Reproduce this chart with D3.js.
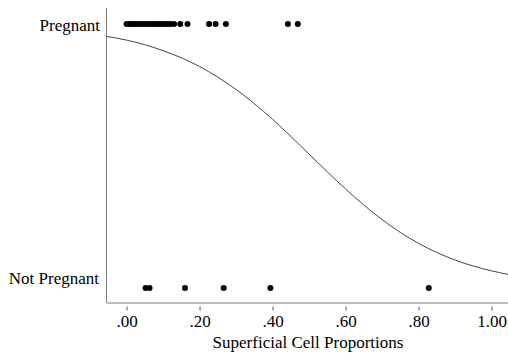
<!DOCTYPE html>
<html><head><meta charset="utf-8">
<script src="https://cdn.jsdelivr.net/npm/d3@7"></script>
<style>body{margin:0;background:#fff}svg{display:block}
svg text{font-family:"Liberation Serif","Times New Roman",Times,"Tinos","DejaVu Serif",serif;}</style>
</head><body>
<script>
const categories = ["Not Pregnant", "Pregnant"];
const pregnantX = [0.00,0.008,0.015,0.022,0.03,0.038,0.045,0.052,0.06,0.068,0.075,0.083,0.09,0.098,0.105,0.113,0.12,0.13,0.147,0.167,0.226,0.244,0.272,0.442,0.469];
const notPregnantX = [0.052,0.063,0.160,0.266,0.394,0.828];
const curveX = [-0.055,0.0,0.1,0.2,0.3,0.4,0.5,0.6,0.7,0.8,0.9,1.0,1.045];
const curveP = [0.953,0.939,0.899,0.839,0.752,0.639,0.507,0.375,0.259,0.169,0.106,0.065,0.0515];
const tickValues = [0,0.2,0.4,0.6,0.8,1.0];
const tickLabels = [".00",".20",".40",".60",".80","1.00"];
const xTitle = "Superficial Cell Proportions";

const W=508,H=356;
const svg=d3.select("body").append("svg").attr("width",W).attr("height",H);
const x=d3.scaleLinear().domain([-0.055,1.045]).range([106.5,508]);
const y=d3.scaleLinear().domain([0,1]).range([288,24]);
const axisY=302.5;

svg.append("line").attr("x1",106.5).attr("x2",106.5).attr("y1",8).attr("y2",axisY)
  .attr("stroke","#808080").attr("stroke-width",1);
const ax=svg.append("g").attr("transform",`translate(0,${axisY})`)
  .call(d3.axisBottom(x).tickValues(tickValues).tickFormat((d,i)=>tickLabels[i]).tickSize(4).tickSizeOuter(0));
ax.attr("font-family",null).attr("font-size",null);
ax.select(".domain").attr("stroke","#808080").attr("d",`M106.5,0.5H508`);
ax.selectAll(".tick line").attr("y1",4).attr("y2",8).attr("stroke","#555");
ax.selectAll(".tick text").attr("y",24).attr("dy",0).style("font-size","17px").attr("fill","#000");

svg.append("text").attr("x",308).attr("y",347.5).attr("text-anchor","middle")
  .style("font-size","17px").text(xTitle);

svg.append("text").attr("x",100).attr("y",y(1)+7).attr("text-anchor","end")
  .style("font-size","17px").text(categories[1]);
svg.append("text").attr("x",99).attr("y",y(0)-4).attr("text-anchor","end")
  .style("font-size","17px").text(categories[0]);

const pts=curveX.map((v,i)=>[v,curveP[i]]);
svg.append("path").datum(pts).attr("fill","none").attr("stroke","#444").attr("stroke-width",1)
  .attr("d",d3.line().x(d=>x(d[0])).y(d=>y(d[1])).curve(d3.curveMonotoneX));

svg.append("g").selectAll("circle").data(pregnantX).join("circle")
  .attr("cx",d=>x(d)).attr("cy",y(1)).attr("r",3).attr("fill","#000");
svg.append("g").selectAll("circle").data(notPregnantX).join("circle")
  .attr("cx",d=>x(d)).attr("cy",y(0)).attr("r",3).attr("fill","#000");
</script>
</body></html>
